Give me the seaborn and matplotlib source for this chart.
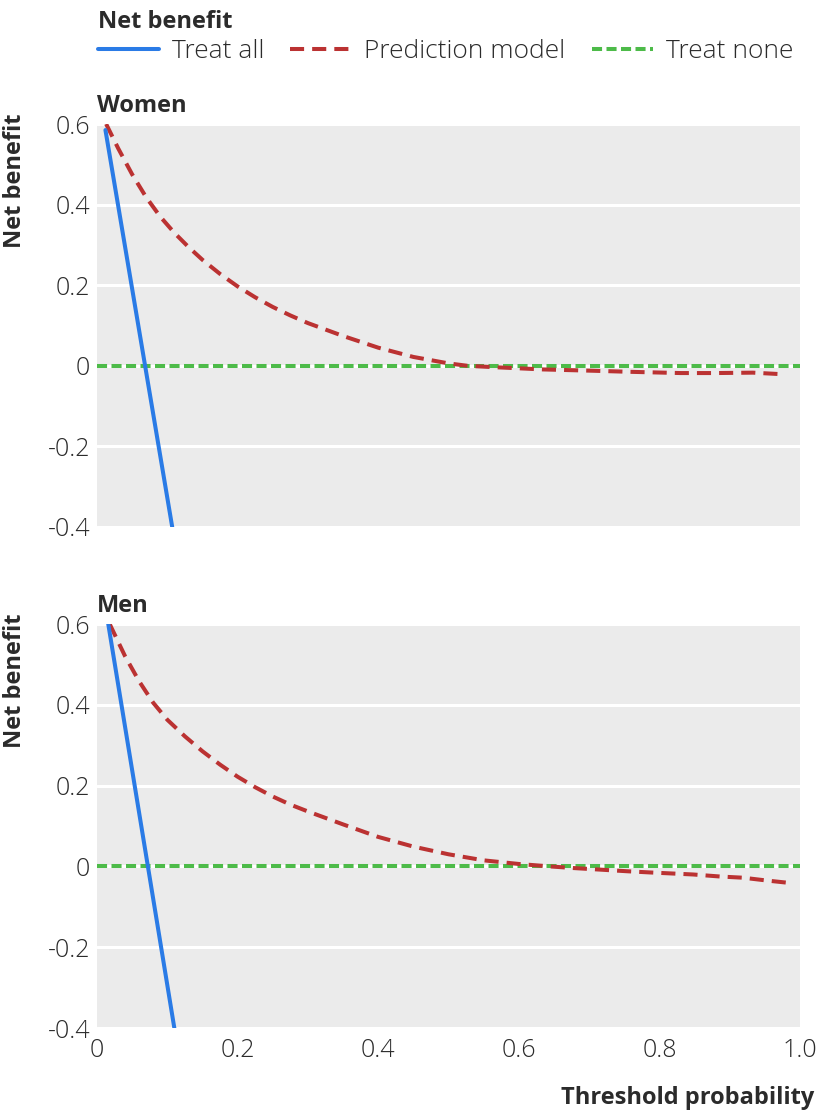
import matplotlib
matplotlib.use("Agg")
import matplotlib.pyplot as plt
import seaborn as sns
from matplotlib.lines import Line2D

# ---- data ----
threshold_ticks = [0, 0.2, 0.4, 0.6, 0.8, 1.0]
threshold_tick_labels = ["0", "0.2", "0.4", "0.6", "0.8", "1.0"]
benefit_ticks = [-0.4, -0.2, 0, 0.2, 0.4, 0.6]
benefit_tick_labels = ["-0.4", "-0.2", "0", "0.2", "0.4", "0.6"]

women_all_x = [0.012, 0.107]
women_all_y = [0.585, -0.40]
women_model_x = [0.013, 0.03, 0.05, 0.07, 0.09, 0.11, 0.13, 0.15, 0.175, 0.20, 0.225,
                 0.25, 0.275, 0.30, 0.35, 0.40, 0.45, 0.50, 0.527, 0.56, 0.634, 0.70,
                 0.76, 0.83, 0.88, 0.933, 0.976]
women_model_y = [0.60, 0.54, 0.475, 0.418, 0.37, 0.33, 0.295, 0.263, 0.228, 0.197, 0.17,
                 0.146, 0.125, 0.106, 0.074, 0.045, 0.022, 0.006, 0.0, -0.003, -0.009, -0.012,
                 -0.015, -0.018, -0.018, -0.017, -0.021]

men_all_x = [0.016, 0.110]
men_all_y = [0.60, -0.40]
men_model_x = [0.018, 0.04, 0.06, 0.08, 0.10, 0.125, 0.15, 0.175, 0.20, 0.225, 0.25,
               0.275, 0.30, 0.35, 0.40, 0.45, 0.50, 0.55, 0.60, 0.644, 0.677, 0.716,
               0.754, 0.787, 0.848, 0.886, 0.919, 0.953, 0.98]
men_model_y = [0.60, 0.52, 0.458, 0.405, 0.363, 0.322, 0.285, 0.252, 0.222, 0.196, 0.173,
               0.153, 0.136, 0.104, 0.073, 0.049, 0.03, 0.015, 0.006, 0.0, -0.004, -0.008,
               -0.012, -0.015, -0.02, -0.025, -0.028, -0.035, -0.04]

none_x = [0.0, 1.0]
none_y = [0.0, 0.0]

series_names = ["Treat all", "Prediction model", "Treat none"]
panel_names = ["Women", "Men"]

# ---- style ----
BLUE = "#2a7be6"
RED = "#bb3232"
GREEN = "#4dbb49"
TXT = "#2b2b2b"
RED_DASH = (0, (3.5, 2.0))
GREEN_DASH = (0, (2.5, 1.1))
LW = 2.9

sns.set_theme(style="darkgrid", rc={
    "axes.facecolor": "#ebebeb",
    "grid.color": "white",
    "grid.linewidth": 2.0,
    "axes.edgecolor": "#ebebeb",
    "axes.linewidth": 0,
})
plt.rcParams["font.family"] = ["Open Sans", "DejaVu Sans"]

fig = plt.figure(figsize=(8.24, 11.16), dpi=100)
W, H = 824, 1116
def rect(l, t, r, b):
    return [l / W, 1 - b / H, (r - l) / W, (b - t) / H]

ax_w = fig.add_axes(rect(97, 124, 800, 527))
ax_m = fig.add_axes(rect(97, 624, 800, 1028))

panels = {
    "Women": (ax_w, women_all_x, women_all_y, women_model_x, women_model_y),
    "Men": (ax_m, men_all_x, men_all_y, men_model_x, men_model_y),
}

for name in panel_names:
    ax, ax_x, ax_y, mx, my = panels[name]
    sns.lineplot(x=none_x, y=none_y, ax=ax, color=GREEN, lw=LW,
                 linestyle=GREEN_DASH, zorder=3)
    sns.lineplot(x=mx, y=my, ax=ax, color=RED, lw=LW,
                 linestyle=RED_DASH, zorder=4)
    sns.lineplot(x=ax_x, y=ax_y, ax=ax, color=BLUE, lw=LW, zorder=5)
    ax.set_xlim(0, 1)
    ax.set_ylim(-0.4, 0.6)
    ax.set_yticks(benefit_ticks)
    ax.set_yticklabels(benefit_tick_labels)
    ax.set_xticks(threshold_ticks)
    ax.grid(axis="x", visible=False)
    ax.grid(axis="y", visible=True, color="white", lw=2.2)
    ax.tick_params(axis="x", direction="in", length=5, width=2, color="white",
                   labelsize=18, labelcolor=TXT, pad=7)
    ax.tick_params(axis="y", length=0, labelsize=18, labelcolor=TXT, pad=5)
    for lab in ax.get_xticklabels() + ax.get_yticklabels():
        lab.set_fontweight("light")
    for s in ax.spines.values():
        s.set_visible(False)
    ax.set_ylabel("Net benefit", fontsize=17, fontweight="bold", color=TXT, loc="top")
    ax.yaxis.set_label_coords(-0.1, 1.027)
    ax.set_xlabel("")
    ax.text(0, 1.014, name, transform=ax.transAxes, ha="left", va="bottom",
            fontsize=17, fontweight="bold", color=TXT)

ax_w.set_xticklabels([])
ax_m.set_xticklabels(threshold_tick_labels, fontweight="light")
ax_m.set_xlabel("Threshold probability", fontsize=17, fontweight="bold", color=TXT,
                labelpad=17, loc="right")
ax_m.xaxis.label.set_x(1.021)

handles = [
    Line2D([], [], color=BLUE, lw=LW),
    Line2D([], [], color=RED, lw=LW, linestyle=RED_DASH),
    Line2D([], [], color=GREEN, lw=LW, linestyle=GREEN_DASH),
]
leg = fig.legend(handles, series_names, loc="upper left", bbox_to_anchor=(82 / W, 1 + 6 / H),
                 ncol=3, frameon=False, title="Net benefit", borderpad=0.1,
                 prop={"size": 19, "weight": "light"}, labelspacing=0.2,
                 title_fontproperties={"weight": "bold", "size": 17},
                 handlelength=2.3, handletextpad=0.5, columnspacing=1.0, labelcolor=TXT)
leg._legend_box.align = "left"
leg.get_title().set_color(TXT)

fig.savefig("out.png", dpi=100)
